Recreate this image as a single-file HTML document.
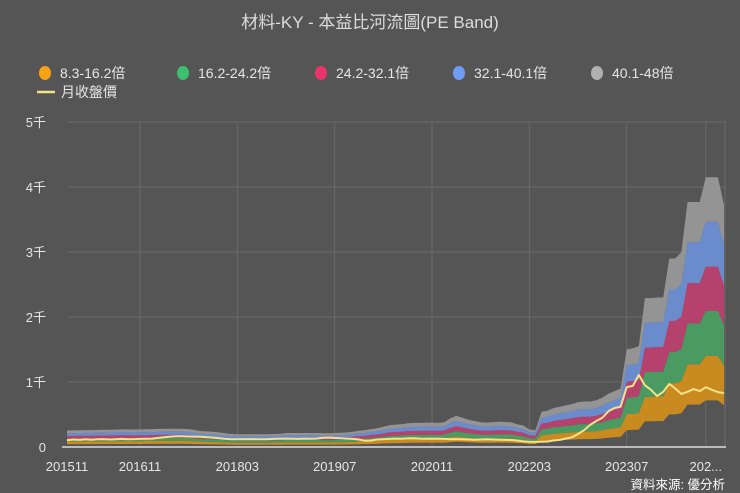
<!DOCTYPE html>
<html><head><meta charset="utf-8"><style>
html,body{margin:0;padding:0;background:#555;}
svg{display:block;font-family:"Liberation Sans","Noto Sans CJK TC",sans-serif;}
</style></head><body>
<svg id="chart" width="740" height="493" viewBox="0 0 740 493">
<rect x="0" y="0" width="740" height="493" fill="#555"/>
<text x="370" y="28" text-anchor="middle" fill="#ddd" font-size="17">材料-KY - 本益比河流圖(PE Band)</text>
<g id="legend" font-size="14" fill="#e6e6e6"></g>
<g id="grid"></g>
<g id="bands"></g>
<g id="axes"></g>
<text x="725" y="489" text-anchor="end" fill="#fff" font-size="12.5">資料來源: 優分析</text>
</svg>
<script>
const multiples = [8.3, 16.2, 24.2, 32.1, 40.1, 48];
const bandLabels = ["8.3-16.2倍","16.2-24.2倍","24.2-32.1倍","32.1-40.1倍","40.1-48倍"];
const priceLabel = "月收盤價";
const xTickLabels = ["201511","201611","201803","201907","202011","202203","202307","202..."];
const xTickIndex = [0,12,28,44,60,76,92,105];
const yTicks = [0,1000,2000,3000,4000,5000];
const yTickLabels = ["0","1千","2千","3千","4千","5千"];
const eps = [
5.31,5.31,5.38,5.42,5.42,5.46,5.52,5.52,5.58,5.63,5.63,5.58,
5.63,5.67,5.73,5.79,5.83,5.83,5.88,5.88,5.73,5.42,5.10,5.00,
4.90,4.69,4.38,4.17,4.06,4.06,4.06,4.06,4.06,4.06,4.17,4.27,
4.48,4.48,4.48,4.48,4.48,4.48,4.38,4.38,4.48,4.58,4.69,4.90,
5.21,5.42,5.73,6.04,6.46,6.98,7.19,7.29,7.60,7.71,7.71,7.81,
7.81,7.71,7.92,9.17,10.0,9.38,8.75,8.33,7.92,7.81,7.92,8.13,
8.02,7.92,7.29,6.88,5.63,5.42,11.25,11.67,12.5,12.92,13.33,13.75,
14.38,14.58,14.58,15.0,15.83,17.08,17.92,18.75,31.25,31.67,32.29,47.71,
47.71,47.92,47.92,60.42,60.42,62.5,78.54,78.54,78.54,86.46,86.46,86.46,77.5];
const price = [
105,115,110,120,112,118,122,115,120,125,118,122,
125,128,130,140,150,160,165,165,162,160,158,150,
145,135,125,120,118,120,122,120,118,120,125,128,
130,128,125,130,128,130,140,145,138,135,130,125,
115,95,100,115,120,125,130,128,132,135,130,128,
130,128,125,120,122,118,115,112,115,118,115,112,
110,108,100,85,80,78,80,85,100,110,130,150,
200,260,340,400,450,550,600,620,920,940,1110,950,
880,785,850,970,900,815,850,890,860,920,880,845,830];
const bandColors = ["#c98a1f","#4a9a62","#b4426d","#6b8ccc","#949494"];
const dotColors = ["#f5a315","#3cbf6e","#e8336d","#6f9cf5","#b0b0b0"];
const X0=67, X1=724, Y0=447, Y1=122, YMAX=5000;
const n = eps.length;
function xs(i){return X0+(X1-X0)*i/(n-1);}
function ys(v){return Y0-(Y0-Y1)*v/YMAX;}
const NS="http://www.w3.org/2000/svg";
function mk(tag,attrs,parent){const e=document.createElementNS(NS,tag);for(const k in attrs)e.setAttribute(k,attrs[k]);parent.appendChild(e);return e;}
const grid=document.getElementById('grid'), bands=document.getElementById('bands'), axes=document.getElementById('axes'), legend=document.getElementById('legend');
yTicks.forEach((t,i)=>{
  if(t>0){const l=mk('line',{x1:X0,x2:X1+2,y1:ys(t),y2:ys(t),stroke:'#6a6a6a','stroke-width':1},grid);
  
  }
  const tx=mk('text',{x:46,y:ys(t)+5,'text-anchor':'end',fill:'#e6e6e6','font-size':13},axes);
  tx.textContent=yTickLabels[i];
  
  
});
xTickIndex.forEach((ix,i)=>{
  const x=xs(ix);
  if(i>0){const l=mk('line',{x1:x,x2:x,y1:Y1,y2:Y0,stroke:'#6a6a6a','stroke-width':1},grid);
  
  }
  const tx=mk('text',{x:x,y:471,'text-anchor':'middle',fill:'#e6e6e6','font-size':13},axes);
  tx.textContent=xTickLabels[i];
  
  
});
{const l=mk('line',{x1:X1+1,x2:X1+1,y1:Y1,y2:Y0,stroke:'#6a6a6a','stroke-width':1},grid);

}
for(let b=0;b<5;b++){
  let d='';
  for(let i=0;i<n;i++) d+=(i?'L':'M')+xs(i).toFixed(1)+','+ys(eps[i]*multiples[b+1]).toFixed(1);
  for(let i=n-1;i>=0;i--) d+='L'+xs(i).toFixed(1)+','+ys(eps[i]*multiples[b]).toFixed(1);
  const p=mk('path',{d:d+'Z',fill:bandColors[b]},bands);
  
  
}
{let d='';for(let i=0;i<n;i++) d+=(i?'L':'M')+xs(i).toFixed(1)+','+ys(price[i]).toFixed(1);
const p=mk('path',{d:d,fill:'none',stroke:'#f2e28a','stroke-width':2,'stroke-linejoin':'round'},bands);

}
{const l=mk('line',{x1:X0-5,x2:X1+2,y1:Y0,y2:Y0,stroke:'#ddd','stroke-width':1.5},axes);

}
const legX=[45,183,321,459,597];
bandLabels.forEach((lab,i)=>{
  const g=mk('g',{},legend);
  
  
  mk('ellipse',{cx:legX[i],cy:73,rx:6,ry:7,fill:dotColors[i]},g);
  const t=mk('text',{x:legX[i]+15,y:78,fill:'#e6e6e6','font-size':14},g);
  t.textContent=lab;
});
{const g=mk('g',{},legend);


mk('line',{x1:37,x2:55,y1:92,y2:92,stroke:'#f2e28a','stroke-width':2.5},g);
const t=mk('text',{x:61,y:97,fill:'#e6e6e6','font-size':14},g);
t.textContent=priceLabel;}
</script>
</body></html>
